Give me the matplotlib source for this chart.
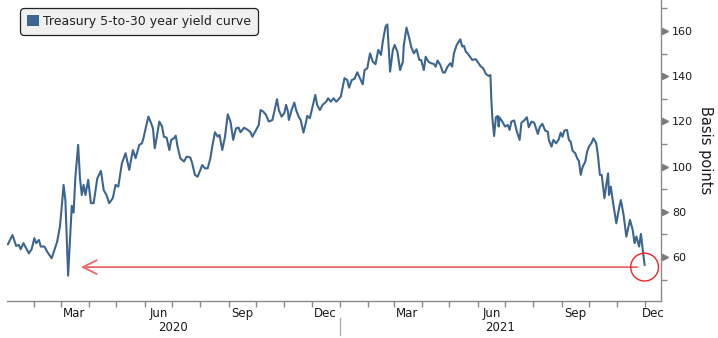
import numpy as np
import matplotlib
matplotlib.use("Agg")
import matplotlib.pyplot as plt
import matplotlib.transforms as mtransforms
from matplotlib.patches import Patch

# days after 2020-01-01 and 5s30s spread in basis points
start = np.datetime64("2020-01-01")
days = [2, 7, 11, 14, 16, 19, 22, 25, 28, 31, 33, 36, 38, 42, 45, 50, 53, 56, 59, 62, 63, 65, 68, 70, 72, 74, 76, 79, 81, 83, 85, 87,
        90, 93, 96, 100, 104, 107, 110, 113, 117, 120, 123, 127, 131, 135, 139, 142, 146, 149, 151, 153, 156, 159, 161, 163, 165, 168, 171, 173, 176, 179,
        181, 184, 186, 188, 191, 195, 198, 202, 204, 207, 210, 213, 215, 218, 221, 224, 226, 229, 232, 234, 237, 240, 243, 246, 249, 252, 255, 257, 261, 265, 268, 270, 274,
        277, 279, 282, 285, 288, 292, 297, 299, 302, 305, 307, 309, 310, 313, 316, 318, 321, 323, 326, 329, 330, 333, 336, 339, 341, 344, 347, 351, 353, 356, 359, 362, 364, 367,
        371, 374, 376, 379, 382, 385, 388, 391, 393, 396, 399, 402, 405, 408, 411, 413, 416, 418, 421, 424, 426, 429, 432, 435, 436, 439, 442, 444, 447, 450, 453, 455, 458, 460,
        463, 466, 469, 471, 473, 476, 479, 481, 484, 487, 489, 491, 494, 498, 500, 502, 504, 506, 508, 511, 515, 518, 520, 523, 526, 529, 531, 532, 533, 535, 537, 539, 540, 541, 544, 547, 550, 552,
        554, 557, 560, 563, 565, 568, 571, 573, 576, 579, 583, 585, 588, 591, 594, 595, 598, 600, 603, 606, 608, 610, 612, 615, 617, 619, 621, 624, 626, 628, 630, 632, 635, 637, 639, 642, 644, 647,
        649, 651, 653, 656, 658, 660, 661, 663, 665, 667, 669, 672, 674, 677, 680, 682, 684, 687, 689, 691, 694, 696, 698, 700]
spread = [65.6, 69.7, 64.9, 65.3, 63.4, 66.1, 63.8, 61.6, 63.4, 68.3, 66.1, 67.5, 64.6, 64.6, 62.3, 59.4, 63.1, 66.8, 73.4, 86.7, 91.9, 85.2, 51.7, 67.5, 82.6, 79.6, 95.5, 109.6, 94.8, 87.4, 91.9, 87.4,
          94.1, 83.8, 83.8, 94.8, 98.1, 89.6, 87.4, 83.8, 86.0, 91.9, 91.1, 101.5, 105.9, 98.5, 107.3, 103.7, 109.6, 110.3, 113.2, 116.9, 122.1, 119.2, 116.9, 108.1, 112.5, 119.9, 117.7, 113.2, 112.8, 107.3,
          111.8, 112.5, 113.7, 108.8, 103.7, 102.2, 104.4, 104.0, 101.5, 96.3, 95.5, 98.5, 100.7, 99.2, 99.2, 103.7, 108.8, 115.2, 113.2, 114.0, 107.3, 113.2, 123.1, 119.9, 111.8, 116.9, 117.2, 115.2, 117.2, 116.2, 115.2, 113.2, 116.2,
          118.4, 125.0, 124.3, 122.8, 119.9, 120.6, 129.8, 125.0, 122.1, 123.6, 127.3, 124.3, 120.6, 125.0, 128.3, 125.0, 121.8, 120.6, 115.0, 119.9, 122.4, 121.4, 126.5, 131.7, 127.3, 125.0, 127.3, 128.7, 130.2, 128.7, 130.2, 128.7, 129.5, 131.0,
          139.1, 138.3, 134.9, 138.3, 138.8, 141.7, 139.1, 136.4, 142.7, 143.5, 150.1, 146.4, 145.3, 151.6, 149.4, 155.3, 161.9, 162.9, 142.0, 151.6, 153.8, 150.8, 142.7, 146.4, 153.5, 161.5, 156.8, 153.1, 150.1, 151.9, 147.2, 147.2, 142.7, 148.6,
          146.4, 145.7, 145.4, 144.2, 146.9, 145.0, 141.6, 141.6, 144.2, 145.7, 144.2, 150.1, 153.8, 156.3, 153.1, 153.4, 150.8, 150.1, 148.9, 147.2, 147.5, 145.7, 144.5, 143.5, 141.0, 140.1, 140.5, 129.5, 122.1, 113.5, 121.8, 122.4, 117.7, 121.8, 119.9, 117.7, 118.4, 116.2,
          119.9, 120.4, 115.4, 111.8, 119.4, 120.4, 121.8, 117.4, 119.9, 119.4, 114.4, 117.4, 118.9, 115.9, 115.4, 111.8, 108.8, 111.8, 110.3, 112.1, 115.0, 113.2, 115.9, 116.2, 111.8, 111.0, 107.0, 105.9, 103.7, 102.5, 96.3, 99.7, 102.2, 106.6, 108.8, 110.6, 112.5, 110.3,
          104.4, 96.3, 96.3, 86.0, 91.9, 97.0, 87.4, 91.1, 85.2, 80.0, 74.9, 81.5, 85.2, 78.6, 69.0, 72.7, 76.4, 71.9, 66.1, 69.0, 64.6, 70.2, 63.1, 56.5]

series_label = "Treasury 5-to-30 year yield curve"
month_labels = ["Mar", "Jun", "Sep", "Dec"]
years = ["2020", "2021"]

# annotation: arrow back to the March 2020 low, circle on the latest print
arrow_level = 55.5
arrow_tip = 82
arrow_tail = 692

line_color = "#3c6690"
grey = "#8a8a8a"
txt = "#1a1a1a"

dates = start + np.array(days).astype("timedelta64[D]")
x_lo = np.datetime64("2020-01-02")
x_hi = np.datetime64("2021-12-19")

fig = plt.figure(figsize=(7.18, 3.38), dpi=100)
ax = fig.add_axes([7 / 718, 37 / 338, 654 / 718, 301 / 338])

ax.plot(dates, spread, color=line_color, lw=1.5)
ax.set_xlim(x_lo, x_hi)
ax.set_ylim(40.5, 173.7)

for s in ["top", "left"]:
    ax.spines[s].set_visible(False)
for s in ["bottom", "right"]:
    ax.spines[s].set_color(grey)
    ax.spines[s].set_linewidth(1.0)

# x axis: month boundaries as small ticks, quarter labels mid-month
month_starts = np.arange(np.datetime64("2020-02"), np.datetime64("2022-01"), dtype="datetime64[M]")
ax.set_xticks(month_starts.astype("datetime64[D]"), minor=True)
label_pos = []
label_txt = []
for m in np.arange(np.datetime64("2020-01"), np.datetime64("2022-01"), dtype="datetime64[M]"):
    mo = int(str(m)[5:7])
    if mo % 3 != 0:
        continue
    a = max(m.astype("datetime64[D]"), x_lo)
    b = min((m + 1).astype("datetime64[D]"), x_hi)
    label_pos.append(a + (b - a) / 2)
    label_txt.append(month_labels[mo // 3 - 1])
ax.set_xticks(label_pos)
ax.set_xticklabels(label_txt)
ax.tick_params(axis="x", which="major", length=0, pad=4, labelsize=8.5, labelcolor=txt)
ax.tick_params(axis="x", which="minor", length=4, width=1, color=grey, direction="out")

# year labels and separator
xtr = mtransforms.blended_transform_factory(ax.transData, ax.transAxes)
jan21 = np.datetime64("2021-01-01")
ax.plot([jan21, jan21], [-0.058, -0.113], color="#b0b0b0", lw=1, transform=xtr, clip_on=False)
for yr, (a, b) in zip(years, [(x_lo, jan21), (jan21, x_hi)]):
    ax.text(a + (b - a) / 2, -0.088, yr, transform=xtr, ha="center", va="center",
            fontsize=8.5, color=txt)

# y axis on the right with small triangle markers at labelled ticks
ax.yaxis.tick_right()
major_y = np.arange(60, 161, 20)
ax.set_yticks(major_y)
ax.set_yticks(np.arange(50, 171, 20), minor=True)
ax.tick_params(axis="y", which="major", length=0, pad=8, labelsize=8, labelcolor=txt)
ax.tick_params(axis="y", which="minor", length=4, width=1, color=grey, direction="out")
ytr = mtransforms.blended_transform_factory(ax.transAxes, ax.transData)
ax.plot(np.full(len(major_y), 1.0056), major_y, ls="none", marker=">", ms=4.8,
        color="#7a7a7a", transform=ytr, clip_on=False)
fig.text(705 / 718, 0.555, "Basis points", rotation=270, ha="center", va="center",
         fontsize=10.5, color=txt)

# red arrow and circle
ax.annotate("", xy=(start + np.timedelta64(arrow_tip, "D"), arrow_level),
            xytext=(start + np.timedelta64(arrow_tail, "D"), arrow_level),
            arrowprops=dict(arrowstyle="->,head_length=1.0,head_width=0.5",
                            color="#f06666", lw=1.3, shrinkA=0, shrinkB=0, mutation_scale=10))
ax.scatter([dates[-1]], [arrow_level], s=400, facecolors="none", edgecolors="#ee2222",
           linewidths=1.0, zorder=5)

leg = ax.legend(handles=[Patch(facecolor=line_color, edgecolor="none", label=series_label)],
                loc="upper left", bbox_to_anchor=(20 / 718, 1 - 8 / 338),
                bbox_transform=fig.transFigure, borderaxespad=0, fontsize=9,
                handlelength=0.95, handleheight=0.95, handletextpad=0.35, borderpad=0.55,
                fancybox=True, facecolor="#f0f0f0", edgecolor="#222222", framealpha=1)
leg.get_frame().set_linewidth(0.9)
leg.get_frame().set_boxstyle("round,pad=0,rounding_size=0.3")
for t in leg.get_texts():
    t.set_color("#222222")

fig.savefig("out.png", dpi=100)
